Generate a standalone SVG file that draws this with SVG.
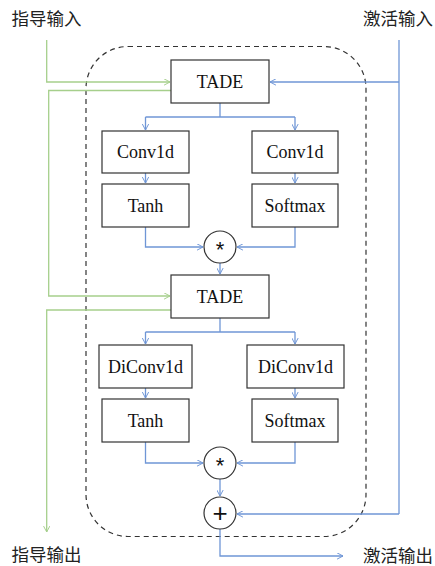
<svg xmlns="http://www.w3.org/2000/svg" width="435" height="566" viewBox="0 0 435 566">
<defs>
<marker id="ab" viewBox="0 0 10 10" refX="9.5" refY="5" markerWidth="7" markerHeight="7" markerUnits="userSpaceOnUse" orient="auto"><path d="M1,0.5 L9.5,5 L1,9.5" fill="none" stroke="#6f96d6" stroke-width="1.4"/></marker>
<marker id="ag" viewBox="0 0 10 10" refX="9.5" refY="5" markerWidth="7" markerHeight="7" markerUnits="userSpaceOnUse" orient="auto"><path d="M1,0.5 L9.5,5 L1,9.5" fill="none" stroke="#a6cf8c" stroke-width="1.4"/></marker>
</defs>
<style>
.box{fill:#fff;stroke:#333;stroke-width:1.2}
.lbl{font-family:"Liberation Serif","Times New Roman",serif;font-size:18px;fill:#111;text-anchor:middle}
.cjk{font-family:"Noto Sans CJK SC","Noto Sans",sans-serif;font-size:17.5px;fill:#222}
.b{fill:none;stroke:#6f96d6;stroke-width:1.3}
.g{fill:none;stroke:#a6cf8c;stroke-width:1.3}
.op{font-family:"Liberation Sans",Arial,sans-serif;fill:#111;text-anchor:middle}
</style>
<rect x="86" y="46.5" width="280" height="490" rx="42" ry="42" fill="none" stroke="#333" stroke-width="1.2" stroke-dasharray="5,4"/>
<g id="connectors">
<path class="g" d="M46.7,40 V82 H170" marker-end="url(#ag)"/>
<path class="g" d="M171,90.5 H48.7 V296 H170" marker-end="url(#ag)"/>
<path class="g" d="M171,310 H46.7 V532" marker-end="url(#ag)"/>
<path class="b" d="M399,40 V514"/>
<path class="b" d="M399,82 H270" marker-end="url(#ab)"/>
<path class="b" d="M399,514 H237" marker-end="url(#ab)"/>
<path class="b" d="M220,103 V117"/>
<path class="b" d="M145.5,117 H295"/>
<path class="b" d="M145.5,117 V130" marker-end="url(#ab)"/>
<path class="b" d="M295,117 V130" marker-end="url(#ab)"/>
<path class="b" d="M145.5,173 V183" marker-end="url(#ab)"/>
<path class="b" d="M295,173 V183" marker-end="url(#ab)"/>
<path class="b" d="M145.5,227 V247 H203" marker-end="url(#ab)"/>
<path class="b" d="M295,227 V247 H237" marker-end="url(#ab)"/>
<path class="b" d="M220,263 V274" marker-end="url(#ab)"/>
<path class="b" d="M220,318 V332"/>
<path class="b" d="M145.5,332 H295"/>
<path class="b" d="M145.5,332 V344" marker-end="url(#ab)"/>
<path class="b" d="M295,332 V344" marker-end="url(#ab)"/>
<path class="b" d="M145.5,388 V398" marker-end="url(#ab)"/>
<path class="b" d="M295,388 V398" marker-end="url(#ab)"/>
<path class="b" d="M145.5,442 V463 H203" marker-end="url(#ab)"/>
<path class="b" d="M295,442 V463 H237" marker-end="url(#ab)"/>
<path class="b" d="M220,479 V496" marker-end="url(#ab)"/>
<path class="b" d="M220,529 V556 H343" marker-end="url(#ab)"/>
</g>
<g id="tade1"><rect class="box" x="171" y="60" width="98" height="43"/><text class="lbl" x="220" y="88">TADE</text></g>
<g id="conv1d-l"><rect class="box" x="102" y="131" width="87" height="42"/><text class="lbl" x="145.5" y="158">Conv1d</text></g>
<g id="conv1d-r"><rect class="box" x="252" y="131" width="86" height="42"/><text class="lbl" x="295" y="158">Conv1d</text></g>
<g id="tanh1"><rect class="box" x="102" y="184" width="87" height="43"/><text class="lbl" x="145.5" y="211.5">Tanh</text></g>
<g id="softmax1"><rect class="box" x="252" y="184" width="86" height="43"/><text class="lbl" x="295" y="211.5">Softmax</text></g>
<g id="mul1"><circle cx="220" cy="247" r="16" fill="#fff" stroke="#333" stroke-width="1.2"/><text class="op" x="220" y="257" font-size="22">*</text></g>
<g id="tade2"><rect class="box" x="171" y="275" width="98" height="43"/><text class="lbl" x="220" y="303">TADE</text></g>
<g id="diconv-l"><rect class="box" x="99" y="345" width="93" height="43"/><text class="lbl" x="145.5" y="372.5">DiConv1d</text></g>
<g id="diconv-r"><rect class="box" x="247" y="345" width="97" height="43"/><text class="lbl" x="295.5" y="372.5">DiConv1d</text></g>
<g id="tanh2"><rect class="box" x="102" y="399" width="87" height="43"/><text class="lbl" x="145.5" y="426.5">Tanh</text></g>
<g id="softmax2"><rect class="box" x="252" y="399" width="86" height="43"/><text class="lbl" x="295" y="426.5">Softmax</text></g>
<g id="mul2"><circle cx="220" cy="463" r="16" fill="#fff" stroke="#333" stroke-width="1.2"/><text class="op" x="220" y="473" font-size="22">*</text></g>
<g id="add"><circle cx="220" cy="513" r="16" fill="#fff" stroke="#333" stroke-width="1.2"/><text class="op" x="220" y="522" font-size="26">+</text></g>
<g id="labels">
<text class="cjk" x="11.5" y="25">指导输入</text>
<text class="cjk" x="363" y="25">激活输入</text>
<text class="cjk" x="11.5" y="561">指导输出</text>
<text class="cjk" x="363" y="562">激活输出</text>
</g>
</svg>
